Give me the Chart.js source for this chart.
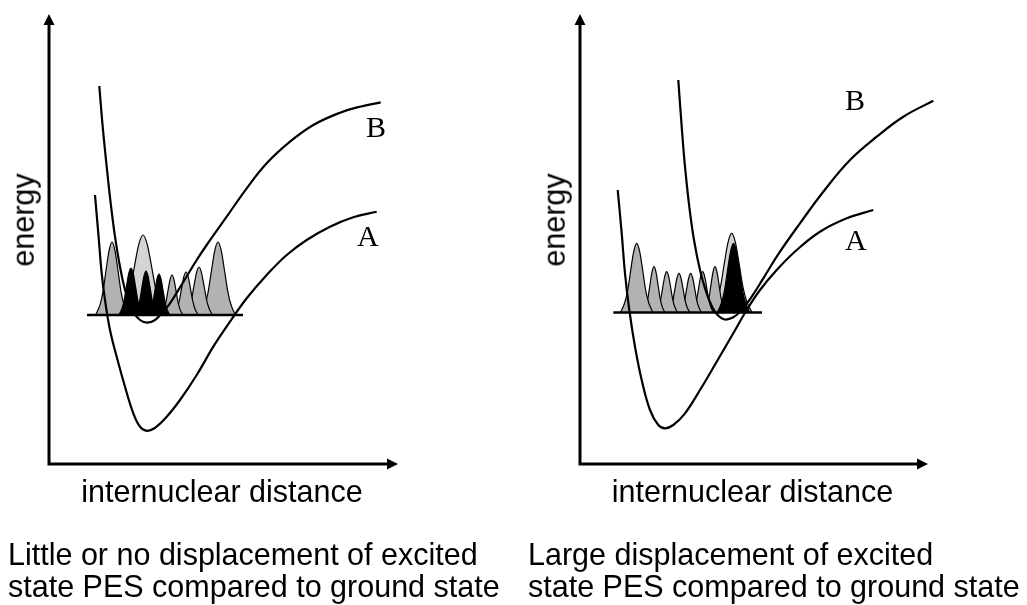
<!DOCTYPE html>
<html>
<head>
<meta charset="utf-8">
<script src="https://cdn.jsdelivr.net/npm/chart.js@4.4.1/dist/chart.umd.min.js"></script>
<style>
  html, body { margin: 0; padding: 0; background: #fff; }
  body { width: 1027px; height: 605px; overflow: hidden; position: relative;
         font-family: "Liberation Sans", Arial, Helvetica, sans-serif; color: #000; }
  canvas { position: absolute; top: 0; }
  #c1 { left: 0; }
  #c2 { left: 514px; }
  .t { position: absolute; font-size: 30.5px; line-height: 1; white-space: nowrap; }
  .serif { font-family: "Liberation Serif", "Times New Roman", serif; font-size: 30px; }
  .ylab { transform: translate(-50%, -50%) rotate(-90deg); }
  .xlab { transform: translateX(-50%); }
</style>
</head>
<body>
<canvas id="c1" width="513" height="605"></canvas>
<canvas id="c2" width="513" height="605"></canvas>

<div class="t ylab" style="left:22.6px; top:220px;">energy</div>
<div class="t ylab" style="left:553.6px; top:220px;">energy</div>
<div class="t xlab" style="left:222px; top:476.2px;">internuclear distance</div>
<div class="t xlab" style="left:752.5px; top:476.2px;">internuclear distance</div>

<div class="t serif" style="left:366px; top:111.6px;">B</div>
<div class="t serif" style="left:357px; top:220.9px;">A</div>
<div class="t serif" style="left:845px; top:85px;">B</div>
<div class="t serif" style="left:845px; top:225px;">A</div>

<div class="t" style="left:8px; top:539.2px;">Little or no displacement of excited</div>
<div class="t" style="left:8px; top:570.9px;">state PES compared to ground state</div>
<div class="t" style="left:528px; top:539.2px;">Large displacement of excited</div>
<div class="t" style="left:528px; top:570.9px;">state PES compared to ground state</div>

<script>
// ---------- data: [internuclear distance, energy] (arbitrary units) ----------
// Left panel: little or no displacement
const leftGround = [[4.6,26.9],[4.93,23.07],[5.27,19.07],[5.6,16.4],[6.1,13.4],[6.77,10.73],[7.6,7.73],[8.43,5.07],[9.1,3.73],[9.7,3.33],[10.5,3.55],[11.77,4.73],[13.1,6.4],[14.77,8.9],[16.43,11.73],[18.1,14.23],[19.77,16.57],[21.77,18.9],[23.77,20.9],[25.77,22.4],[28.1,23.73],[30.43,24.67],[32.77,25.23]];
const leftExcited = [[5.03,37.8],[5.37,33.73],[5.77,29.73],[6.17,26.07],[6.6,22.73],[7.1,19.73],[7.7,17.07],[8.43,15.23],[9.1,14.4],[9.83,14.13],[10.6,14.4],[11.27,15.07],[12.1,16.07],[13.43,18.2],[14.77,20.4],[15.77,21.9],[17.77,24.73],[19.77,27.57],[21.77,30.07],[24.1,32.23],[26.43,33.9],[29.1,35.13],[31.1,35.73],[33.17,36.17]];
const leftBaseLevel = 14.9;
const leftBaseline = [[3.8,14.9],[19.4,14.9]];
const leftPeakP1 = [[4.65,14.9],[5.1,15.92],[5.4,17.24],[5.7,19.35],[6.0,21.32],[6.3,22.2],[6.6,21.32],[6.9,19.35],[7.2,17.24],[7.5,15.92],[7.95,14.9]];
const leftPeakP2 = [[7.1,14.9],[7.7,16.02],[8.12,17.46],[8.55,19.78],[8.97,21.94],[9.4,22.9],[9.83,21.94],[10.25,19.78],[10.68,17.46],[11.1,16.02],[11.7,14.9]];
const leftPeakB1 = [[6.98,14.9],[7.3,15.56],[7.52,16.4],[7.75,17.77],[7.97,19.04],[8.2,19.6],[8.43,19.04],[8.65,17.77],[8.88,16.4],[9.1,15.56],[9.42,14.9]];
const leftPeakB2 = [[8.57,14.9],[8.86,15.52],[9.07,16.31],[9.28,17.58],[9.49,18.77],[9.7,19.3],[9.91,18.77],[10.12,17.58],[10.33,16.31],[10.54,15.52],[10.83,14.9]];
const leftPeakB3 = [[9.92,14.9],[10.2,15.47],[10.4,16.21],[10.6,17.4],[10.8,18.51],[11.0,19.0],[11.2,18.51],[11.4,17.4],[11.6,16.21],[11.8,15.47],[12.08,14.9]];
const leftPeakG1 = [[11.22,14.9],[11.5,15.46],[11.7,16.18],[11.9,17.34],[12.1,18.42],[12.3,18.9],[12.5,18.42],[12.7,17.34],[12.9,16.18],[13.1,15.46],[13.38,14.9]];
const leftPeakG2 = [[12.48,14.9],[12.8,15.5],[13.02,16.28],[13.25,17.52],[13.47,18.68],[13.7,19.2],[13.93,18.68],[14.15,17.52],[14.38,16.28],[14.6,15.5],[14.92,14.9]];
const leftPeakG3 = [[13.65,14.9],[14.0,15.57],[14.25,16.44],[14.5,17.83],[14.75,19.12],[15.0,19.7],[15.25,19.12],[15.5,17.83],[15.75,16.44],[16.0,15.57],[16.35,14.9]];
const leftPeakG4 = [[15.15,14.9],[15.6,15.92],[15.92,17.24],[16.25,19.35],[16.57,21.32],[16.9,22.2],[17.23,21.32],[17.55,19.35],[17.88,17.24],[18.2,15.92],[18.65,14.9]];

// Right panel: large displacement
const rightGround = [[3.77,27.4],[4.17,23.07],[4.5,19.07],[4.93,15.4],[5.5,11.73],[6.17,8.4],[7.0,5.4],[7.83,3.9],[8.5,3.57],[9.33,3.9],[10.5,5.07],[12.0,7.4],[13.67,10.23],[15.33,13.07],[16.67,15.4],[18.0,17.4],[19.67,19.4],[21.67,21.4],[24.0,23.23],[26.67,24.57],[29.33,25.4]];
const rightExcited = [[9.83,38.4],[10.17,33.73],[10.5,29.73],[10.93,25.73],[11.4,22.4],[12.0,19.4],[12.67,17.07],[13.5,15.23],[14.4,14.47],[15.33,14.67],[16.17,15.4],[17.17,16.73],[18.33,18.57],[20.0,21.23],[22.0,24.07],[24.33,27.23],[27.0,30.4],[29.67,32.73],[32.33,34.73],[35.33,36.33]];
const rightBaseLevel = 15.15;
const rightBaseline = [[3.33,15.15],[18.2,15.15]];
const rightPeakR1 = [[4.05,15.15],[4.47,16.12],[4.77,17.36],[5.07,19.37],[5.37,21.24],[5.67,22.07],[5.97,21.24],[6.27,19.37],[6.57,17.36],[6.87,16.12],[7.29,15.15]];
const rightPeakR2 = [[6.32,15.15],[6.6,15.79],[6.8,16.62],[7.0,17.94],[7.2,19.18],[7.4,19.73],[7.6,19.18],[7.8,17.94],[8.0,16.62],[8.2,15.79],[8.48,15.15]];
const rightPeakR3 = [[7.59,15.15],[7.87,15.72],[8.07,16.46],[8.27,17.64],[8.47,18.74],[8.67,19.23],[8.87,18.74],[9.07,17.64],[9.27,16.46],[9.47,15.72],[9.75,15.15]];
const rightPeakR4 = [[8.82,15.15],[9.1,15.7],[9.3,16.4],[9.5,17.54],[9.7,18.6],[9.9,19.07],[10.1,18.6],[10.3,17.54],[10.5,16.4],[10.7,15.7],[10.98,15.15]];
const rightPeakR5 = [[9.99,15.15],[10.27,15.7],[10.47,16.4],[10.67,17.54],[10.87,18.6],[11.07,19.07],[11.27,18.6],[11.47,17.54],[11.67,16.4],[11.87,15.7],[12.15,15.15]];
const rightPeakR6 = [[11.19,15.15],[11.47,15.72],[11.67,16.46],[11.87,17.64],[12.07,18.74],[12.27,19.23],[12.47,18.74],[12.67,17.64],[12.87,16.46],[13.07,15.72],[13.35,15.15]];
const rightPeakR7 = [[12.42,15.15],[12.7,15.79],[12.9,16.62],[13.1,17.94],[13.3,19.18],[13.5,19.73],[13.7,19.18],[13.9,17.94],[14.1,16.62],[14.3,15.79],[14.58,15.15]];
const rightPeakR8 = [[13.14,15.15],[13.67,16.26],[14.04,17.68],[14.42,19.98],[14.79,22.12],[15.17,23.07],[15.55,22.12],[15.92,19.98],[16.3,17.68],[16.67,16.26],[17.2,15.15]];
const rightPeakR8Black = [[13.73,15.15],[14.15,16.12],[14.45,17.36],[14.75,19.37],[15.05,21.24],[15.35,22.07],[15.65,21.24],[15.95,19.37],[16.25,17.36],[16.55,16.12],[16.97,15.15]];

// axis extents (arrow tips)
const leftAxisEnd = { x: 34.9, y: 45.0 };
const rightAxisEnd = { x: 34.8, y: 45.0 };

// ---------- drawing ----------
const axisArrows = {
  id: 'axisArrows',
  afterDatasetsDraw(chart, args, opts) {
    const { ctx, scales: { x, y } } = chart;
    const x0 = x.getPixelForValue(0), y0 = y.getPixelForValue(0);
    const x1 = x.getPixelForValue(opts.xEnd), y1 = y.getPixelForValue(opts.yEnd);
    const L = 11, W = 5.5;
    ctx.save();
    ctx.strokeStyle = '#000';
    ctx.fillStyle = '#000';
    ctx.lineWidth = 3;
    ctx.lineJoin = 'miter';
    ctx.beginPath();
    ctx.moveTo(x0, y1 + L - 1);
    ctx.lineTo(x0, y0);
    ctx.lineTo(x1 - L + 1, y0);
    ctx.stroke();
    ctx.beginPath();
    ctx.moveTo(x1, y0); ctx.lineTo(x1 - L, y0 - W); ctx.lineTo(x1 - L, y0 + W); ctx.closePath(); ctx.fill();
    ctx.beginPath();
    ctx.moveTo(x0, y1); ctx.lineTo(x0 - W, y1 + L); ctx.lineTo(x0 + W, y1 + L); ctx.closePath(); ctx.fill();
    ctx.restore();
  }
};

function curve(data) {
  return { data, borderColor: '#000', borderWidth: 2.2, pointRadius: 0, fill: false, tension: 0.4, order: 1 };
}
function peak(data, base, color, order) {
  return { data, borderColor: '#000', borderWidth: 1.2, backgroundColor: color, pointRadius: 0,
           fill: { value: base }, cubicInterpolationMode: 'monotone', order };
}
function level(data) {
  return { data, borderColor: '#000', borderWidth: 2.6, pointRadius: 0, fill: false, tension: 0, order: 0 };
}

function makeChart(id, xMin, xMax, datasets, axisEnd) {
  return new Chart(document.getElementById(id), {
    type: 'line',
    data: { datasets },
    options: {
      responsive: false,
      animation: false,
      events: [],
      layout: { padding: 0 },
      scales: {
        x: { type: 'linear', min: xMin, max: xMax, display: false },
        y: { type: 'linear', min: -14.1, max: 46.4, display: false }
      },
      plugins: {
        legend: { display: false },
        tooltip: { enabled: false },
        axisArrows: { xEnd: axisEnd.x, yEnd: axisEnd.y }
      }
    },
    plugins: [axisArrows]
  });
}

const GREY = '#b2b2b2', LIGHT = '#d4d4d4', BLACK = '#000';

makeChart('c1', -4.9, 46.4, [
  curve(leftGround),
  curve(leftExcited),
  level(leftBaseline),
  peak(leftPeakB1, leftBaseLevel, BLACK, 3),
  peak(leftPeakB2, leftBaseLevel, BLACK, 3),
  peak(leftPeakB3, leftBaseLevel, BLACK, 3),
  peak(leftPeakG1, leftBaseLevel, GREY, 4),
  peak(leftPeakG2, leftBaseLevel, GREY, 4),
  peak(leftPeakG3, leftBaseLevel, GREY, 4),
  peak(leftPeakP1, leftBaseLevel, GREY, 5),
  peak(leftPeakG4, leftBaseLevel, GREY, 5),
  peak(leftPeakP2, leftBaseLevel, LIGHT, 6)
], leftAxisEnd);

makeChart('c2', -6.6, 44.7, [
  curve(rightGround),
  curve(rightExcited),
  level(rightBaseline),
  peak(rightPeakR8Black, rightBaseLevel, BLACK, 3),
  peak(rightPeakR1, rightBaseLevel, GREY, 4),
  peak(rightPeakR2, rightBaseLevel, GREY, 4),
  peak(rightPeakR3, rightBaseLevel, GREY, 4),
  peak(rightPeakR4, rightBaseLevel, GREY, 4),
  peak(rightPeakR5, rightBaseLevel, GREY, 4),
  peak(rightPeakR6, rightBaseLevel, GREY, 4),
  peak(rightPeakR7, rightBaseLevel, GREY, 4),
  peak(rightPeakR8, rightBaseLevel, LIGHT, 6)
], rightAxisEnd);
</script>
</body>
</html>
